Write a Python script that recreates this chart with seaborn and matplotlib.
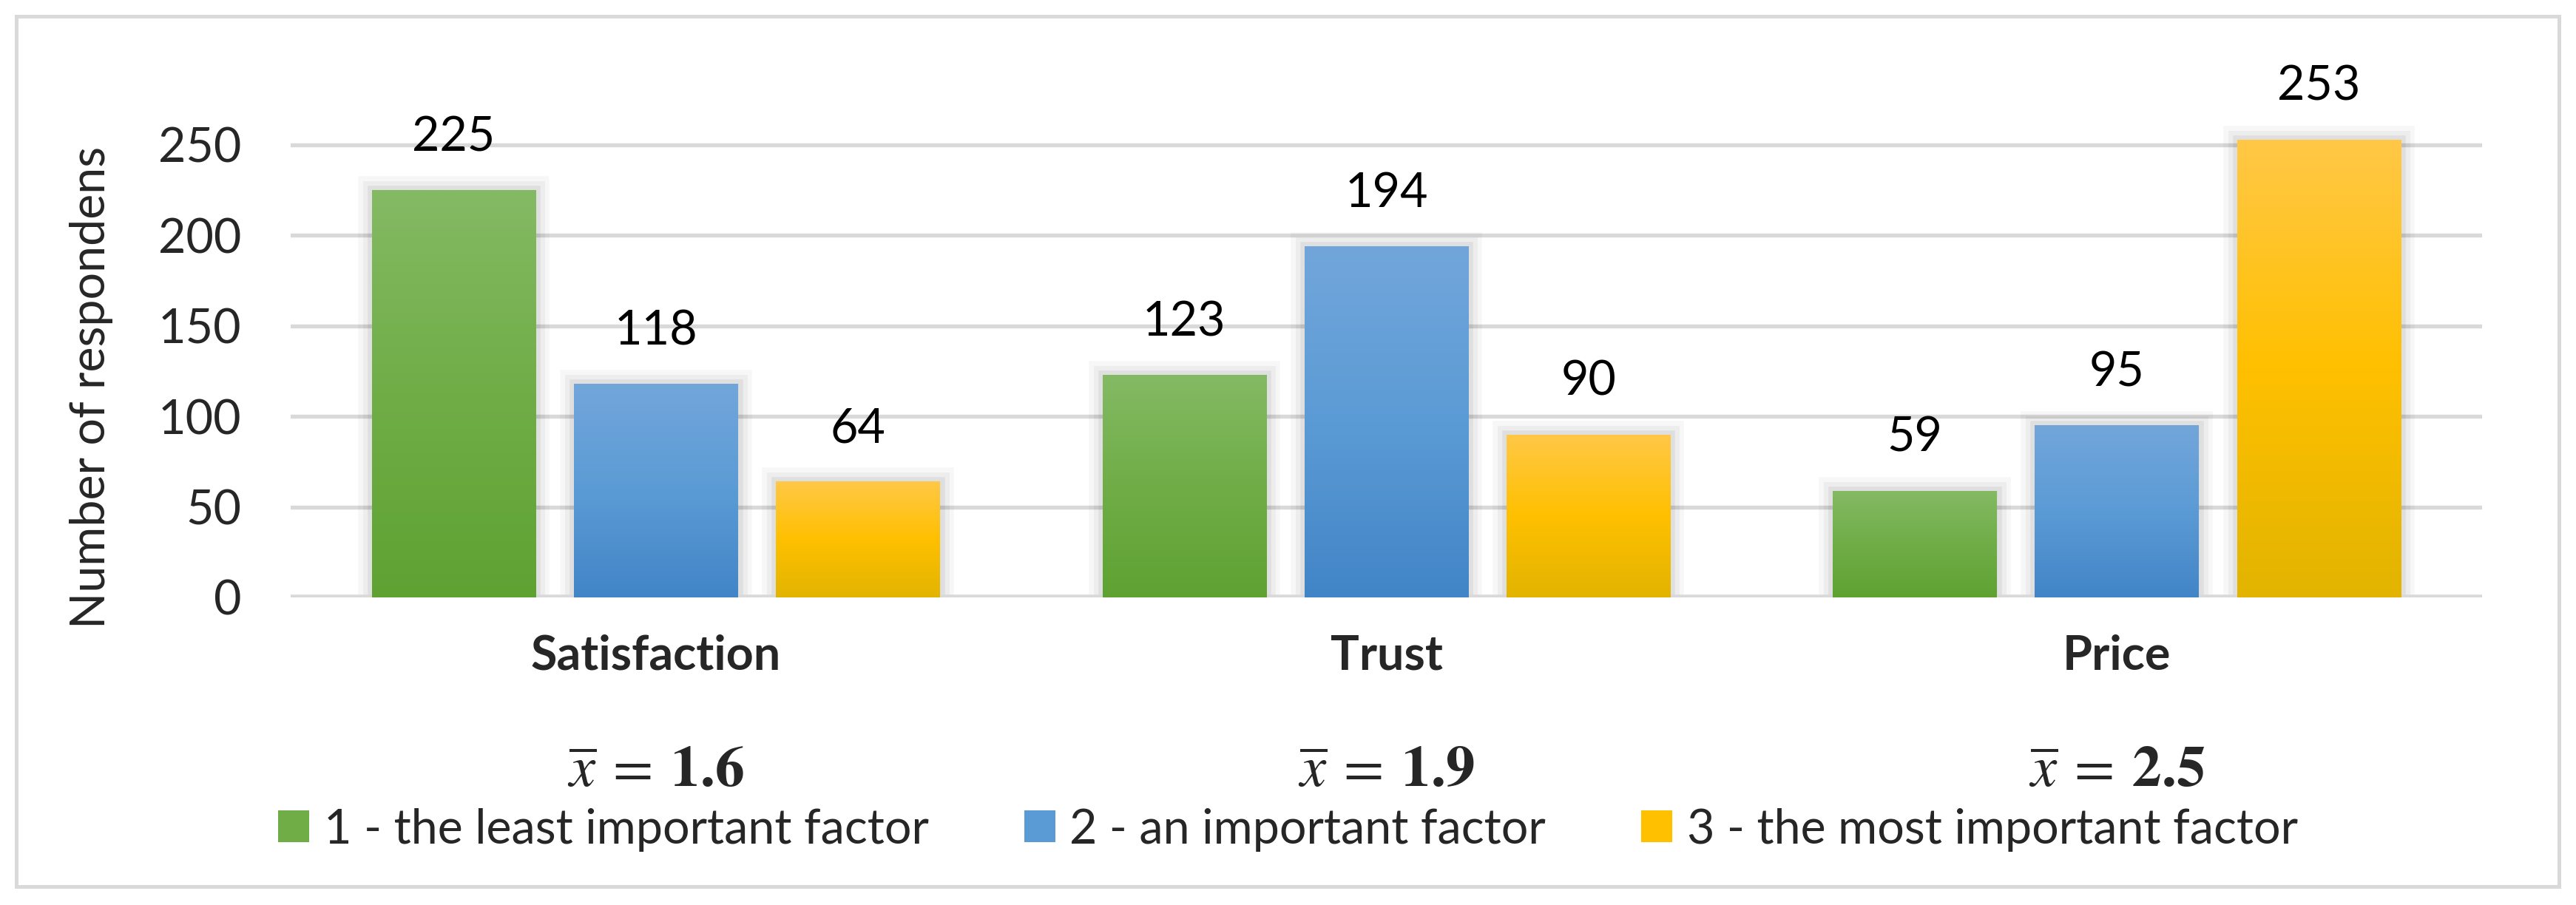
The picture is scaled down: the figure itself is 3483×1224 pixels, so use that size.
import numpy as np
import pandas as pd
import matplotlib
matplotlib.use("Agg")
import matplotlib.pyplot as plt
import matplotlib.patheffects as pe
import matplotlib.transforms as mtransforms
from matplotlib.colors import to_rgb
from matplotlib.patches import Rectangle, Patch
import seaborn as sns

# ============================
# DATA
# ============================
categories = ["Satisfaction", "Trust", "Price"]
levels = ["1 - the least important factor",
          "2 - an important factor",
          "3 - the most important factor"]
least_important = [225, 123, 59]
important = [118, 194, 95]
most_important = [64, 90, 253]
mean_scores = ["1.6", "1.9", "2.5"]
y_ticks = [0, 50, 100, 150, 200, 250]

# gradient colours per level: (top, middle, bottom)
GRADIENTS = [
    ("#84BA64", "#70AD47", "#5FA232"),
    ("#72A6DB", "#5B9BD5", "#4285C7"),
    ("#FFC847", "#FFC000", "#E2B400"),
]

W, H, DPI = 3483, 1224, 300
FS = 15.5

# ============================
# STYLE
# ============================
sns.set_style("white")
plt.rcParams["font.family"] = ["Lato", "DejaVu Sans"]
plt.rcParams["mathtext.fontset"] = "stix"

rows = []
for lvl, vals in zip(levels, [least_important, important, most_important]):
    for cat, v in zip(categories, vals):
        rows.append({"factor": cat, "level": lvl, "count": v})
df = pd.DataFrame(rows)

fig = plt.figure(figsize=(W / DPI, H / DPI), dpi=DPI)
ax = fig.add_axes([393 / W, 1 - 808 / H, (3356 - 393) / W, (808 - 98) / H])

palette = [g[1] for g in GRADIENTS]
sns.barplot(data=df, x="factor", y="count", hue="level", order=categories,
            hue_order=levels, palette=palette, width=0.83, gap=0.19,
            errorbar=None, ax=ax, legend=False)

# soft shadow + vertical gradient on every bar
shadow = [pe.Stroke(linewidth=9, foreground="#000000", alpha=0.03),
          pe.Stroke(linewidth=6, foreground="#000000", alpha=0.04),
          pe.Stroke(linewidth=3, foreground="#000000", alpha=0.06),
          pe.Normal()]
for i, cont in enumerate(ax.containers):
    top, mid, bot = [np.array(to_rgb(c)) for c in GRADIENTS[i]]
    t = np.linspace(0, 1, 200)[:, None]
    grad = np.where(t < 0.5, top + (mid - top) * (t / 0.5),
                    mid + (bot - mid) * ((t - 0.5) / 0.5))
    grad = grad[:, None, :]
    for bar in cont:
        bar.set_edgecolor("none")
        bar.set_path_effects(shadow)
        x0, w, h = bar.get_x(), bar.get_width(), bar.get_height()
        im = ax.imshow(grad, extent=[x0, x0 + w, 0, h], aspect="auto",
                       origin="upper", zorder=bar.get_zorder() + 0.1)
        im.set_clip_path(bar)
    ax.bar_label(cont, labels=[str(int(b.get_height())) for b in cont],
                 padding=10, fontsize=FS, color="black")

ax.set_xlim(-0.5, 2.5)
ax.set_ylim(0, 290)
ax.set_yticks(y_ticks)
ax.yaxis.grid(True, color="#D9D9D9", linewidth=1.3)
ax.set_axisbelow(True)
for s in ax.spines.values():
    s.set_visible(False)
ax.axhline(0, color="#D9D9D9", linewidth=1.8, zorder=1)
ax.tick_params(axis="y", length=0, pad=16, labelsize=FS)
ax.tick_params(axis="x", length=0, pad=12, labelsize=FS)
for lab in ax.get_xticklabels():
    lab.set_fontweight("bold")
ax.set_xlabel("")
ax.set_ylabel("Number of respondens", fontsize=FS)
ax.yaxis.set_label_coords(-0.081, 0.40)

# mean scores under category labels
mean_tr = mtransforms.blended_transform_factory(ax.transData, fig.transFigure)
for i, m in enumerate(mean_scores):
    ax.text(i, 1 - 1043 / H, r"$\overline{x}\:=\:\mathbf{" + m + "}$",
            transform=mean_tr, ha="center", va="center", fontsize=19)

handles = [Patch(facecolor=g[1], edgecolor="none") for g in GRADIENTS]
fig.legend(handles, levels, loc="center", bbox_to_anchor=(0.5, 1 - 1122 / H),
           ncol=3, frameon=False, fontsize=FS, handlelength=0.65,
           handleheight=0.65, handletextpad=0.3, columnspacing=2.0)

# outer chart border
fig.patches.append(Rectangle((22 / W, 1 - 1199 / H), (3460 - 22) / W, (1199 - 22) / H,
                             transform=fig.transFigure, fill=False,
                             edgecolor="#D9D9D9", linewidth=1.2))

fig.savefig("out.png", dpi=DPI, facecolor="white")
